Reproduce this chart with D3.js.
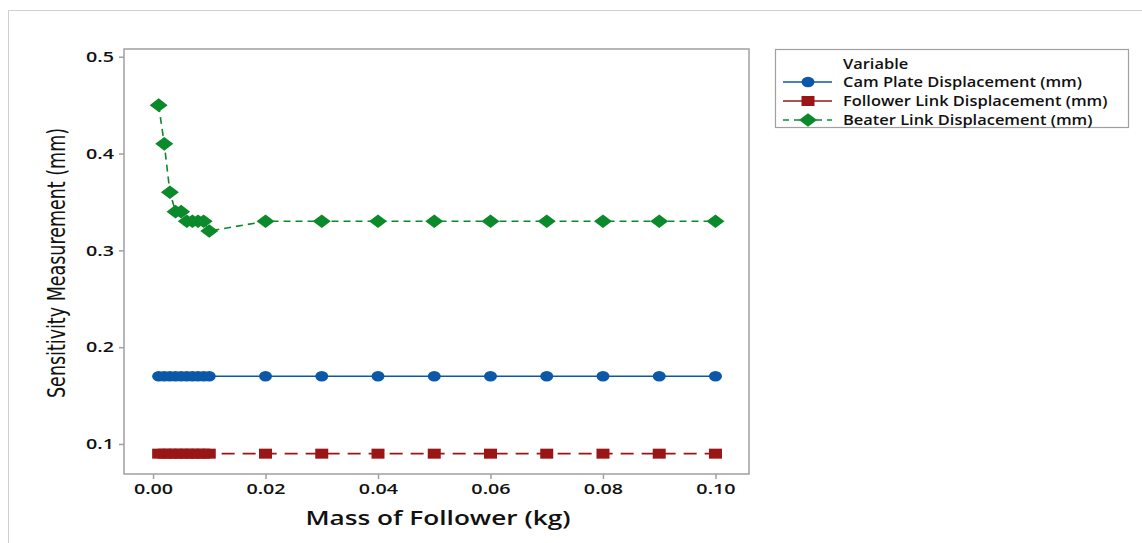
<!DOCTYPE html>
<html><head><meta charset="utf-8">
<script src="https://cdn.jsdelivr.net/npm/d3@7"></script>
<style>body{margin:0;background:#fff;}svg{display:block;}</style>
</head><body>
<svg id="chart" width="1142" height="543"></svg>
<script>
const massX = [0.001,0.002,0.003,0.004,0.005,0.006,0.007,0.008,0.009,0.010,0.02,0.03,0.04,0.05,0.06,0.07,0.08,0.09,0.10];
const camPlate = [0.17,0.17,0.17,0.17,0.17,0.17,0.17,0.17,0.17,0.17,0.17,0.17,0.17,0.17,0.17,0.17,0.17,0.17,0.17];
const followerLink = [0.09,0.09,0.09,0.09,0.09,0.09,0.09,0.09,0.09,0.09,0.09,0.09,0.09,0.09,0.09,0.09,0.09,0.09,0.09];
const beaterLink = [0.45,0.41,0.36,0.34,0.34,0.33,0.33,0.33,0.33,0.32,0.33,0.33,0.33,0.33,0.33,0.33,0.33,0.33,0.33];
const seriesNames = ["Cam Plate Displacement (mm)","Follower Link Displacement (mm)","Beater Link Displacement (mm)"];
const xTicks = [0,0.02,0.04,0.06,0.08,0.10];
const yTicks = [0.1,0.2,0.3,0.4,0.5];
const legendTitle = "Variable";
const xTitle = "Mass of Follower (kg)";
const yTitle = "Sensitivity Measurement (mm)";

const svg = d3.select("#chart");
const L = 124, R = 749, T = 49, B = 474;
const x = d3.scaleLinear().domain([-0.00516, 0.10596]).range([L, R]);
const y = d3.scaleLinear().domain([0.069, 0.508]).range([B, T]);
const font = "'Open Sans', 'Noto Sans', sans-serif";

// stretch text horizontally by a common factor (reference glyphs are wide)
function stretch(sel, factor) {
  sel.each(function() {
    const w = this.getComputedTextLength();
    d3.select(this).attr("textLength", w * factor).attr("lengthAdjust", "spacingAndGlyphs");
  });
}

// outer frame
svg.append("rect").attr("x",8.5).attr("y",10.5).attr("width",1200).attr("height",600)
  .attr("fill","none").attr("stroke","#d0d0d0").attr("stroke-width",1);

// plot frame
svg.append("rect").attr("x",L).attr("y",T).attr("width",R-L).attr("height",B-T)
  .attr("fill","#fff").attr("stroke","#a0a0a0").attr("stroke-width",1.5);

// axes
const yAxis = d3.axisLeft(y).tickValues(yTicks).tickFormat(d3.format(".1f")).tickSize(5).tickPadding(5);
const gy = svg.append("g").attr("transform",`translate(${L},0)`).call(yAxis);
const xAxis = d3.axisBottom(x).tickValues(xTicks).tickFormat(d3.format(".2f")).tickSize(5).tickPadding(5);
const gx = svg.append("g").attr("transform",`translate(0,${B})`).call(xAxis);
[gx, gy].forEach(g => {
  g.select(".domain").remove();
  g.selectAll(".tick line").attr("stroke","#a0a0a0").attr("stroke-width",1.5);
  g.selectAll(".tick text").attr("fill","#111").style("font-family",font)
    .style("font-weight","600").style("font-size","14.5px");
});
const tickSample = gy.select(".tick:last-of-type text").node().getComputedTextLength();
const tickFactor = 28 / tickSample;
stretch(gx.selectAll(".tick text"), tickFactor);
stretch(gy.selectAll(".tick text"), tickFactor);

// titles
const xt = svg.append("text").attr("x",438).attr("y",524.5).attr("text-anchor","middle")
  .style("font-family",font).style("font-weight","600").style("font-size","20px").attr("fill","#111")
  .text(xTitle);
xt.attr("textLength",265).attr("lengthAdjust","spacingAndGlyphs");
svg.append("text").attr("transform","translate(65,263) rotate(-90)").attr("text-anchor","middle")
  .style("font-family","'Liberation Sans Narrow','DejaVu Sans Condensed',sans-serif")
  .style("font-size","24px").attr("fill","#111")
  .attr("textLength",270).attr("lengthAdjust","spacingAndGlyphs")
  .text(yTitle);

const colors = ["#0B58A8","#9A1616","#0A8A2A"];
const dashes = [null, "13,8", "7,5"];
const data = [camPlate, followerLink, beaterLink];

const line = d3.line().x(d => x(d[0])).y(d => y(d[1]));

function marker(g, k, cx, cy) {
  if (k === 0) {
    g.append("ellipse").attr("cx",cx).attr("cy",cy).attr("rx",6.5).attr("ry",5.2).attr("fill",colors[0]);
  } else if (k === 1) {
    g.append("rect").attr("x",cx-6.5).attr("y",cy-5).attr("width",13).attr("height",10).attr("fill",colors[1]);
  } else {
    g.append("path").attr("d",`M${cx-9},${cy}L${cx},${cy-6.8}L${cx+9},${cy}L${cx},${cy+6.8}Z`).attr("fill",colors[2]);
  }
}

data.forEach((vals, k) => {
  const pts = massX.map((m,i) => [m, vals[i]]);
  svg.append("path").datum(pts).attr("d", line).attr("fill","none")
    .attr("stroke", colors[k]).attr("stroke-width",1.6)
    .attr("stroke-dasharray", dashes[k]);
  const g = svg.append("g");
  pts.forEach(p => marker(g, k, x(p[0]), y(p[1])));
});

// legend
const lg = svg.append("g");
lg.append("rect").attr("x",775.5).attr("y",49.5).attr("width",353).attr("height",78)
  .attr("fill","#fff").attr("stroke","#a0a0a0").attr("stroke-width",1.2);
const legTexts = [];
legTexts.push(lg.append("text").attr("x",843).attr("y",68.5).style("font-family",font).style("font-weight","600")
  .style("font-size","13.5px").attr("fill","#111").text(legendTitle));
const legDash = [null, null, "6,5"];
seriesNames.forEach((name, k) => {
  const cy = 82 + k * 19;
  lg.append("line").attr("x1",783).attr("x2",832).attr("y1",cy).attr("y2",cy)
    .attr("stroke",colors[k]).attr("stroke-width",1.6).attr("stroke-dasharray",legDash[k]);
  marker(lg, k, 808, cy);
  legTexts.push(lg.append("text").attr("x",843).attr("y",cy+5).style("font-family",font).style("font-weight","600")
    .style("font-size","13.5px").attr("fill","#111").text(name));
});
const legFactor = 239 / legTexts[1].node().getComputedTextLength();
legTexts.forEach(t => stretch(t, legFactor));
</script>
</body></html>
